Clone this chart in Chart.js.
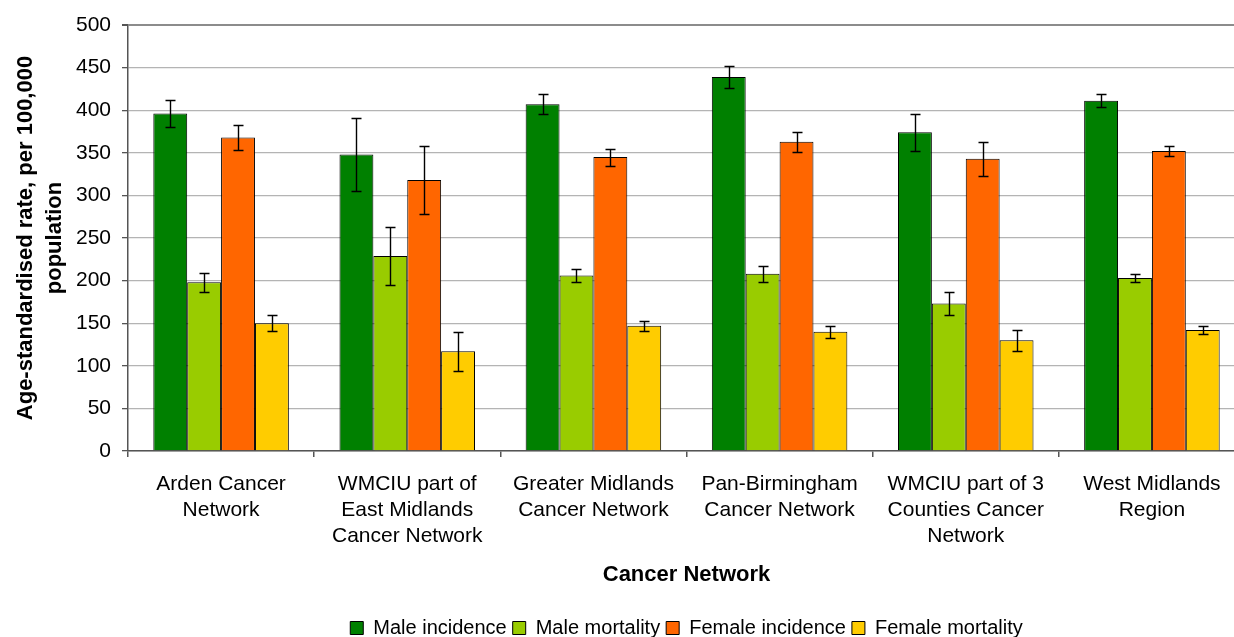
<!DOCTYPE html>
<html>
<head>
<meta charset="utf-8">
<title>Cancer Network rates</title>
<script src="https://cdn.jsdelivr.net/npm/chart.js@4"></script>
<style>
    html, body { margin: 0; padding: 0; background: #fff; overflow: hidden; }
    #wrap { width: 1250px; height: 637px; }
</style>
</head>
<body>
<div id="wrap"><canvas id="networkChart" width="1250" height="637"></canvas></div>
<script>
const categories = [
    ['Arden Cancer', 'Network'],
    ['WMCIU part of', 'East Midlands', 'Cancer Network'],
    ['Greater Midlands', 'Cancer Network'],
    ['Pan-Birmingham', 'Cancer Network'],
    ['WMCIU part of 3', 'Counties Cancer', 'Network'],
    ['West Midlands', 'Region']
];
const maleIncidence = [396, 348, 407, 439, 374, 411];
const maleIncidenceErr = [16, 43, 11.5, 12.5, 21.5, 7.5];
const maleMortality = [198, 229, 206, 208, 173, 203];
const maleMortalityErr = [11, 34, 8, 9.5, 13.5, 4.3];
const femaleIncidence = [368, 318, 345, 363, 343, 352];
const femaleIncidenceErr = [15, 40, 10, 11.5, 20, 6];
const femaleMortality = [150, 117, 147, 140, 130, 142];
const femaleMortalityErr = [9.5, 23, 6, 7, 12.5, 4.3];
const yTicks = [0, 50, 100, 150, 200, 250, 300, 350, 400, 450, 500];

const font = 'Liberation Sans, Arial, sans-serif';

// whiskers drawn from each dataset's errors array
const errorBars = {
    id: 'errorBars',
    afterDatasetsDraw(chart) {
        const { ctx, scales: { y } } = chart;
        ctx.save();
        ctx.strokeStyle = '#000';
        ctx.lineWidth = 1.4;
        chart.data.datasets.forEach((ds, i) => {
            chart.getDatasetMeta(i).data.forEach((bar, j) => {
                const v = ds.data[j], e = ds.errors[j];
                const top = Math.round(y.getPixelForValue(v + e)) + 0.5;
                const bot = Math.round(y.getPixelForValue(v - e)) + 0.5;
                const x = Math.round(bar.x) + 0.5;
                ctx.beginPath();
                ctx.moveTo(x, top); ctx.lineTo(x, bot);
                ctx.moveTo(x - 5, top); ctx.lineTo(x + 5, top);
                ctx.moveTo(x - 5, bot); ctx.lineTo(x + 5, bot);
                ctx.stroke();
            });
        });
        ctx.restore();
    }
};

// centre the legend under the plot rather than the whole canvas
const legendUnderPlot = {
    id: 'legendUnderPlot',
    beforeDraw(chart) {
        if (!chart.legend) return;
        chart.legend.left = chart.chartArea.left;
        chart.legend.right = chart.chartArea.right;
    }
};

const makeSet = (label, data, errors, color) => ({
    label, data, errors,
    backgroundColor: color,
    borderColor: '#000',
    borderWidth: 1,
    categoryPercentage: 0.728,
    barPercentage: 1
});

new Chart(document.getElementById('networkChart'), {
    type: 'bar',
    data: {
        labels: categories,
        datasets: [
            makeSet('Male incidence', maleIncidence, maleIncidenceErr, '#008000'),
            makeSet('Male mortality', maleMortality, maleMortalityErr, '#99CC00'),
            makeSet('Female incidence', femaleIncidence, femaleIncidenceErr, '#FF6600'),
            makeSet('Female mortality', femaleMortality, femaleMortalityErr, '#FFCC00')
        ]
    },
    options: {
        responsive: false,
        animation: false,
        layout: { padding: { top: 25, right: 5, left: 0, bottom: -11 } },
        plugins: {
            tooltip: { enabled: false },
            legend: {
                position: 'bottom',
                labels: {
                    color: '#000',
                    font: { family: font, size: 20 },
                    boxWidth: 13,
                    boxHeight: 13,
                    padding: 6
                }
            }
        },
        scales: {
            x: {
                offset: true,
                grid: { offset: true, drawOnChartArea: false, drawTicks: true, tickLength: 6, color: '#555', lineWidth: 1.5 },
                border: { color: '#555', width: 1.5 },
                ticks: { color: '#000', font: { family: font, size: 21, lineHeight: 1.24 }, padding: 14, maxRotation: 0, autoSkip: false },
                title: { display: true, text: 'Cancer Network', color: '#000', font: { family: font, size: 22, weight: 'bold', lineHeight: 1.2 }, padding: { top: 4, bottom: 24 } },
                afterFit: scale => { scale.height = 161; }
            },
            y: {
                min: 0,
                max: 500,
                afterBuildTicks: scale => { scale.ticks = yTicks.map(value => ({ value })); },
                grid: {
                    color: ctx => ctx.tick && ctx.tick.value === 500 ? '#8c8c8c' : '#b4b4b4',
                    lineWidth: ctx => ctx.tick && ctx.tick.value === 500 ? 2 : 1.3,
                    tickLength: 6,
                    tickColor: '#555'
                },
                border: { color: '#555', width: 1.5 },
                ticks: { color: '#000', font: { family: font, size: 21 }, padding: 11 },
                title: {
                    display: true,
                    text: ['Age-standardised rate, per 100,000', 'population'],
                    color: '#000',
                    font: { family: font, size: 22, weight: 'bold', lineHeight: 1.32 },
                    padding: { top: 11, bottom: 0 }
                },
                afterFit: scale => { scale.width = 128; }
            }
        }
    },
    plugins: [errorBars, legendUnderPlot]
});
</script>
</body>
</html>
